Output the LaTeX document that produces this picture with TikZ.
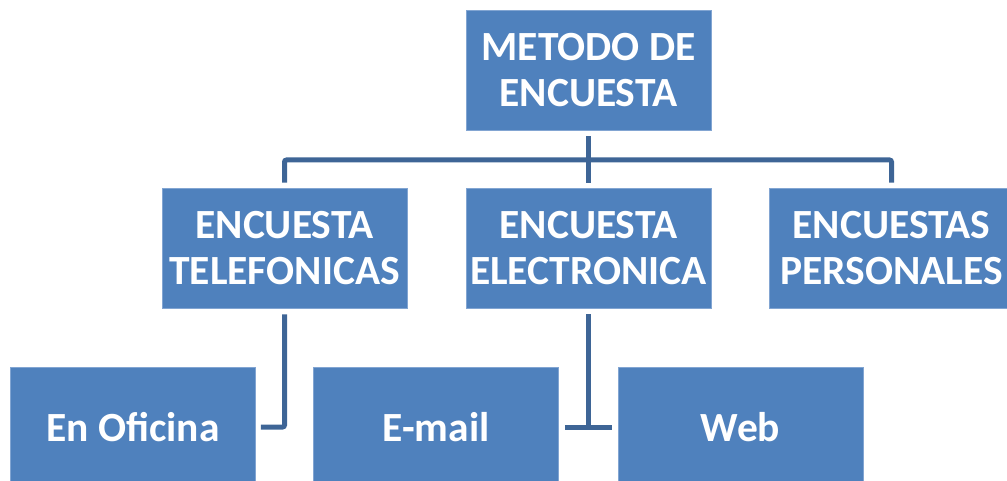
\documentclass[tikz,border=0pt]{standalone}
\usepackage{fontspec}
\setmainfont{Carlito}
\definecolor{boxblue}{RGB}{79,129,189}
\definecolor{boxedge}{RGB}{130,165,210}
\definecolor{lineblue}{RGB}{62,101,150}
\tikzset{
	box/.style={rectangle, fill=boxblue, draw=boxedge, line width=0.8pt,
		minimum width=245pt, minimum height=120pt, inner sep=0pt,
		align=center, text=white,
		font=\fontsize{41.5}{46}\selectfont\bfseries},
	conn/.style={draw=lineblue, line width=5pt, rounded corners=2pt}
}
\begin{document}
\begin{tikzpicture}[x=1pt,y=1pt]
	\useasboundingbox (0,0) rectangle (1007,-481);
	% top
	\node[box] (metodo) at (588.5,-70) {METODO DE\\ENCUESTA};
	% second row
	\node[box] (tel) at (284.5,-248) {ENCUESTA\\TELEFONICAS};
	\node[box] (elec) at (588.5,-248) {ENCUESTA\\ELECTRONICA};
	\node[box] (pers) at (891.5,-248) {ENCUESTAS\\PERSONALES};
	% third row
	\node[box] (oficina) at (133,-427) {En Oficina};
	\node[box] (email) at (436,-427) {E-mail};
	\node[box] (web) at (740.5,-427) {Web};
	\coordinate (bus) at (588.5,-160);

	\draw[conn] ([yshift=-6pt]metodo.south) -- ([yshift=5pt]elec.north);
	\draw[conn] ([yshift=5pt]tel.north) |- (bus) -| ([yshift=5pt]pers.north);
	\draw[conn] ([yshift=-6pt]tel.south) |- ([xshift=5pt]oficina.east);
	\draw[conn] ([yshift=-6pt]elec.south) -- (elec.south |- email.east);
	\draw[conn] ([xshift=6pt]email.east) -- ([xshift=-6pt]web.west);
\end{tikzpicture}
\end{document}
